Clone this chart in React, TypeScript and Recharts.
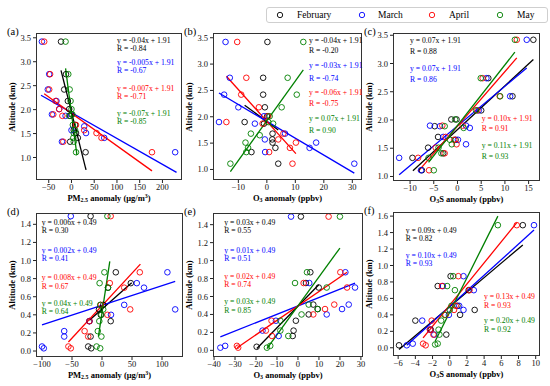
import React from 'react';
import { ComposedChart, Scatter, Line, XAxis, YAxis } from 'recharts';

const FONT = '"Liberation Serif", "Times New Roman", serif';

const months = ['February', 'March', 'April', 'May'];
const colors = ['#000000', '#0000ff', '#ff0000', '#008000'];

// (a) PM2.5 anomaly vs altitude, [x, y]
const aFeb = [[-23, 3.42], [-12, 2.74], [-16, 2.42], [-8, 2.18], [-5, 2.01], [0, 1.9], [-3, 1.87], [8, 1.68], [5, 1.57], [10, 1.51], [14, 1.41], [-3, 1.33], [31, 1.11]];
const aMar = [[-65, 3.42], [-49, 2.74], [-52, 2.42], [-33, 2.18], [-27, 2.01], [-43, 1.9], [-13, 1.87], [28, 1.65], [0, 1.57], [32, 1.51], [72, 1.41], [-21, 1.33], [228, 1.11]];
const aApr = [[-60, 3.42], [-47, 2.74], [-49, 2.42], [-35, 2.18], [-27, 2.01], [-40, 1.9], [-20, 1.87], [10, 1.68], [28, 1.57], [55, 1.51], [66, 1.41], [-18, 1.33], [177, 1.11]];
const aMay = [[-13, 3.42], [-7, 2.74], [-4, 2.42], [-2, 2.18], [0, 2.01], [2, 1.9], [-5, 1.87], [3, 1.68], [8, 1.57], [5, 1.51], [4, 1.41], [5, 1.33], [10, 1.11]];
const aFits = [
  [[-23, 2.82], [32, 0.74]],
  [[-67, 2.3], [231, 0.69]],
  [[-60, 2.33], [177, 0.72]],
  [[-13, 2.86], [12, 1.05]],
];
const aEq = ['y = -0.04x + 1.91', 'y = -0.005x + 1.91', 'y = -0.007x + 1.91', 'y = -0.07x + 1.91'];
const aR = ['R = -0.84', 'R = -0.67', 'R = -0.71', 'R = -0.85'];

// (b) O3 anomaly
const bFeb = [[0.2, 3.42], [-1.3, 2.74], [-1.3, 2.42], [-0.7, 2.18], [0.1, 2.01], [-7.8, 1.9], [-1.0, 1.87], [2.0, 1.68], [1.9, 1.57], [2.0, 1.51], [3.0, 1.41], [-5.4, 1.33], [4.0, 1.11]];
const bMar = [[-14.5, 3.42], [-13, 2.74], [-15, 2.42], [-10, 2.18], [-1, 2.01], [-16.8, 1.9], [-4.2, 1.87], [6.4, 1.68], [-0.7, 1.57], [17.3, 1.51], [15, 1.41], [-0.6, 1.33], [30.7, 1.11]];
const bApr = [[-10.4, 3.42], [-7.2, 2.74], [-9, 2.42], [-2.8, 2.18], [0.5, 2.01], [-14.2, 1.9], [-1.5, 1.87], [5.8, 1.68], [4, 1.57], [10.2, 1.51], [8.1, 1.41], [0.8, 1.33], [9, 1.11]];
const bMay = [[12.8, 3.42], [7.3, 2.74], [10.5, 2.42], [5.2, 2.18], [1, 2.01], [0.5, 1.9], [2.2, 1.87], [-5.6, 1.68], [-2.5, 1.65], [-7.5, 1.51], [-6.6, 1.41], [-7.2, 1.33], [-12.8, 1.11]];
const bFits = [
  [[-7.8, 2.22], [4.0, 1.75]],
  [[-16.8, 2.45], [30.7, 0.93]],
  [[-14.2, 2.77], [10.2, 1.3]],
  [[-12.8, 0.96], [12.8, 2.89]],
];
const bEq = ['y = -0.04x + 1.91', 'y = -0.03x + 1.91', 'y = -0.06x + 1.91', 'y = 0.07x + 1.91'];
const bR = ['R = -0.20', 'R = -0.74', 'R = -0.75', 'R = 0.90'];

// (c) O3S anomaly
const cFeb = [[16.0, 3.42], [6.5, 2.74], [11.6, 2.42], [5.0, 2.17], [-1.3, 2.01], [-0.2, 2.01], [-4.8, 1.89], [-4.1, 1.7], [-0.4, 1.65], [-6.2, 1.51], [-3.0, 1.41], [-9.5, 1.33], [-7.5, 1.11]];
const cMar = [[14.6, 3.42], [6.1, 2.74], [11.1, 2.42], [4.5, 2.17], [-5.8, 1.9], [-3.7, 1.89], [2.6, 1.86], [1.8, 1.9], [-3.0, 1.7], [0.1, 1.65], [1.8, 1.57], [-12.3, 1.33], [-7.7, 1.11]];
const cApr = [[12.5, 3.42], [5.3, 2.74], [8.9, 2.42], [4.2, 2.17], [-3.2, 1.9], [1.1, 1.9], [-2.5, 1.7], [-0.7, 1.65], [-0.2, 1.57], [-4.6, 1.51], [-2.7, 1.41], [-8.3, 1.33], [-6.0, 1.11]];
const cMay = [[12.1, 3.42], [4.9, 2.74], [9.0, 2.42], [3.9, 2.17], [-0.5, 2.01], [-2.7, 1.89], [1.3, 1.86], [-1.6, 1.65], [-1.2, 1.57], [-4.0, 1.51], [-3.4, 1.41], [-6.1, 1.33], [-5.0, 1.11]];
const cFits = [
  [[-9.4, 1.1], [16.0, 3.07]],
  [[-12.3, 1.03], [14.6, 2.92]],
  [[-8.3, 1.09], [12.5, 3.1]],
  [[-6.1, 1.25], [12.1, 3.2]],
];
const cEq = ['y = 0.07x + 1.91', 'y = 0.07x + 1.91', 'y = 0.10x + 1.91', 'y = 0.11x + 1.91'];
const cR = ['R = 0.88', 'R = 0.86', 'R = 0.91', 'R = 0.93'];

// (d) PM2.5 anomaly, lower layer
const dFeb = [[-19, 1.49], [23, 0.87], [48, 0.75], [10, 0.7], [2, 0.51], [-5, 0.46], [-2, 0.4], [14.5, 0.33], [-21, 0.33], [-19, 0.16], [-23, 0.05], [-18, 0.03]];
const dMar = [[-52, 1.49], [109, 0.87], [58, 0.75], [70, 0.7], [37, 0.51], [122, 0.46], [15, 0.4], [-21, 0.33], [-63, 0.22], [-63, 0.16], [-100, 0.05], [-97, 0.03]];
const dApr = [[14.5, 1.49], [63, 0.87], [13, 0.75], [37, 0.7], [-2, 0.51], [47, 0.46], [9, 0.4], [-21, 0.33], [-29, 0.22], [-23, 0.16], [-56, 0.05], [-52, 0.03]];
const dMay = [[9, 1.49], [4, 0.87], [-4, 0.75], [10, 0.7], [-3, 0.51], [2, 0.46], [-1, 0.4], [-4.5, 0.33], [-7, 0.22], [-1, 0.16], [-9, 0.05], [-3, 0.03]];
const dFits = [
  [[-21, 0.34], [49.5, 0.755]],
  [[-100, 0.29], [122, 0.77]],
  [[-56, 0.1], [64, 0.96]],
  [[-6, 0.16], [13, 0.99]],
];
const dEq = ['y = 0.006x + 0.49', 'y = 0.002x + 0.49', 'y = 0.008x + 0.49', 'y = 0.04x + 0.49'];
const dR = ['R = 0.30', 'R = 0.41', 'R = 0.67', 'R = 0.64'];

// (e) O3 anomaly, lower layer
const eFeb = [[1.4, 1.49], [5.9, 0.87], [3.8, 0.75], [9.9, 0.7], [7.3, 0.51], [9.4, 0.46], [5.1, 0.4], [-1, 0.33], [-2.1, 0.22], [-2.5, 0.16], [-19.7, 0.04]];
const eMar = [[-3.3, 1.49], [22.6, 0.87], [5.4, 0.75], [27.2, 0.7], [24.2, 0.51], [21, 0.46], [13.7, 0.4], [-10.5, 0.33], [-16.9, 0.22], [-9.2, 0.16], [-34.7, 0.05], [-37, 0.03]];
const eApr = [[14.6, 1.49], [20.2, 0.87], [2.7, 0.75], [23.4, 0.7], [17.3, 0.51], [12.9, 0.46], [7.3, 0.4], [-12.6, 0.33], [-15.3, 0.22], [-12.4, 0.16], [-29.1, 0.05], [-28.5, 0.03]];
const eMay = [[20, 1.49], [4.3, 0.87], [-1.4, 0.75], [13.7, 0.7], [5.1, 0.51], [9.4, 0.46], [1.7, 0.4], [-8.4, 0.33], [-8.4, 0.22], [-4.6, 0.16], [-13.2, 0.05], [-14.8, 0.03]];
const eFits = [
  [[-19.6, 0.02], [9.9, 0.73]],
  [[-37, 0.15], [27.2, 0.75]],
  [[-29, 0.03], [23.4, 0.87]],
  [[-14.8, 0.02], [20, 1.14]],
];
const eEq = ['y = 0.03x + 0.49', 'y = 0.01x + 0.49', 'y = 0.02x + 0.49', 'y = 0.03x + 0.49'];
const eR = ['R = 0.55', 'R = 0.51', 'R = 0.74', 'R = 0.85'];

// (f) O3S anomaly, lower layer
const fFeb = [[8.5, 1.49], [0.1, 0.87], [-1.4, 0.75], [2.2, 0.7], [0.9, 0.51], [2.9, 0.46], [1.2, 0.4], [-4.0, 0.33], [-2.2, 0.22], [-0.4, 0.16], [-5.9, 0.03]];
const fMar = [[9.8, 1.49], [1.6, 0.87], [-0.8, 0.75], [2.8, 0.7], [1.1, 0.51], [1.6, 0.46], [-0.1, 0.4], [-3.2, 0.33], [-2.3, 0.22], [-1.8, 0.16], [-4.3, 0.05], [-5.0, 0.03]];
const fApr = [[7.8, 1.49], [1.0, 0.87], [-0.9, 0.75], [2.3, 0.7], [0.7, 0.51], [0.5, 0.46], [-0.5, 0.4], [-2.1, 0.33], [-2.3, 0.22], [-1.9, 0.16], [-3.1, 0.05], [-2.8, 0.03]];
const fMay = [[5.6, 1.49], [0.4, 0.87], [-0.3, 0.75], [0.6, 0.7], [0.2, 0.51], [0.0, 0.46], [-0.6, 0.4], [-1.0, 0.33], [-1.3, 0.22], [-1.2, 0.16], [-1.7, 0.04], [-1.4, 0.05]];
const fFits = [
  [[-5.9, -0.02], [8.5, 1.25]],
  [[-5.0, 0.03], [9.8, 1.43]],
  [[-3.1, 0.12], [7.8, 1.52]],
  [[-1.7, 0.08], [5.6, 1.6]],
];
const fEq = ['y = 0.09x + 0.49', 'y = 0.10x + 0.49', 'y = 0.13x + 0.49', 'y = 0.20x + 0.49'];
const fR = ['R = 0.82', 'R = 0.93', 'R = 0.93', 'R = 0.92'];

const ticksTopY = [1.0, 1.5, 2.0, 2.5, 3.0, 3.5];
const ticksLowY = [0, 0.2, 0.4, 0.6, 0.8, 1.0, 1.2, 1.4];

const toObj = (pts: number[][]) => pts.map(([x, y]) => ({ x, y }));
const fmtX = (v: number) => (v < 0 ? '\u2212' + Math.abs(v) : String(v));

const panels = [
  {
    tag: '(a)', xl: 'pm', left: 36, right: 182, top: 33, bottom: 180,
    xDomain: [-78, 243], yDomain: [0.53, 3.6], xTicks: [-50, 0, 50, 100, 150, 200], yTicks: ticksTopY,
    pts: [aFeb, aMar, aApr, aMay], fits: aFits, eq: aEq, r: aR,
    notes: [[117, 40.7, 48.3], [117, 62.7, 70.7], [117, 88.3, 96.7], [117, 113.3, 121.7]],
  },
  {
    tag: '(b)', xl: 'o3', left: 213, right: 362, top: 33, bottom: 180,
    xDomain: [-18.9, 33.4], yDomain: [0.8, 3.59], xTicks: [-10, 0, 10, 20, 30], yTicks: ticksTopY,
    pts: [bFeb, bMar, bApr, bMay], fits: bFits, eq: bEq, r: bR,
    notes: [[309, 40.7, 50.7], [309, 65.3, 78.3], [309, 92.7, 103.3], [309, 118.3, 130]],
  },
  {
    tag: '(c)', xl: 'o3s', left: 393, right: 540, top: 33, bottom: 181,
    xDomain: [-13.6, 17.4], yDomain: [0.92, 3.54], xTicks: [-10, -5, 0, 5, 10, 15], yTicks: ticksTopY,
    pts: [cFeb, cMar, cApr, cMay], fits: cFits, eq: cEq, r: cR,
    notes: [[410, 40.7, 51], [410, 68.3, 79], [481.7, 118.3, 128.3], [481.7, 145.7, 156]],
  },
  {
    tag: '(d)', xl: 'pm', left: 36, right: 183, top: 213, bottom: 357,
    xDomain: [-110, 135], yDomain: [-0.066, 1.525], xTicks: [-100, -50, 0, 50, 100], yTicks: ticksLowY,
    pts: [dFeb, dMar, dApr, dMay], fits: dFits, eq: dEq, r: dR,
    notes: [[41.7, 222.7, 230.7], [41.7, 250, 258.3], [41.7, 277.3, 286], [41.7, 303.3, 311.7]],
  },
  {
    tag: '(e)', xl: 'o3', left: 213, right: 363, top: 213, bottom: 357,
    xDomain: [-40.5, 31], yDomain: [-0.074, 1.53], xTicks: [-40, -30, -20, -10, 0, 10, 20, 30], yTicks: ticksLowY,
    pts: [eFeb, eMar, eApr, eMay], fits: eFits, eq: eEq, r: eR,
    notes: [[224.3, 222.3, 230.7], [224.3, 250, 258.3], [224.3, 276, 284.3], [224.3, 301.7, 310.7]],
  },
  {
    tag: '(f)', xl: 'o3s', left: 393, right: 540, top: 212, bottom: 356,
    xDomain: [-6.6, 10.5], yDomain: [-0.1, 1.65], xTicks: [-6, -4, -2, 0, 2, 4, 6, 8, 10], yTicks: [0, 0.2, 0.4, 0.6, 0.8, 1.0, 1.2, 1.4, 1.6],
    pts: [fFeb, fMar, fApr, fMay], fits: fFits, eq: fEq, r: fR,
    notes: [[405.7, 230.7, 238.3], [405.7, 255.7, 263.3], [484, 296.7, 305], [484, 320.7, 329.3]],
  },
];

const YW = 30;
const MT = 4;
const MR = 4;
const XH = 18;

const ring = (color: string) => (props: any) => (
  <circle cx={props.cx} cy={props.cy} r={2.8} fill="none" stroke={color} strokeWidth={0.9} />
);

const subStyle: React.CSSProperties = { fontSize: '0.7em', verticalAlign: '-0.25em', lineHeight: 0 };
const supStyle: React.CSSProperties = { fontSize: '0.7em', verticalAlign: '0.45em', lineHeight: 0 };

function XTitle({ kind }: { kind: string }) {
  if (kind === 'pm') {
    return <span>PM<span style={subStyle}>2.5</span> anomaly (μg/m<span style={supStyle}>3</span>)</span>;
  }
  if (kind === 'o3') {
    return <span>O<span style={subStyle}>3</span> anomaly (ppbv)</span>;
  }
  return <span>O<span style={subStyle}>3</span>S anomaly (ppbv)</span>;
}

function Note({ x, y, color, text }: { x: number; y: number; color: string; text: string }) {
  return (
    <div style={{ position: 'absolute', left: x, top: y - 4.5, fontSize: 7.7, lineHeight: '9px', color, whiteSpace: 'nowrap' }}>
      {text}
    </div>
  );
}

function Panel({ p }: { p: any }) {
  const w = p.right - p.left;
  const h = p.bottom - p.top;
  const tickStyle = { fontSize: 8.5, fill: '#111', fontFamily: FONT };
  return (
    <>
      <div style={{ position: 'absolute', left: p.left - YW, top: p.top - MT }}>
        <ComposedChart width={w + YW + MR} height={h + MT + XH} margin={{ top: MT, right: MR, bottom: 0, left: 0 }}>
          <XAxis
            type="number" dataKey="x" domain={p.xDomain} ticks={p.xTicks} allowDataOverflow interval={0}
            height={XH} tickSize={3} tickMargin={1} axisLine={false} tickLine={{ stroke: '#222' }}
            tick={tickStyle} tickFormatter={fmtX}
          />
          <YAxis
            type="number" dataKey="y" domain={p.yDomain} ticks={p.yTicks} allowDataOverflow interval={0}
            width={YW} tickSize={3} tickMargin={2} axisLine={false} tickLine={{ stroke: '#222' }}
            tick={tickStyle} tickFormatter={(v: number) => v.toFixed(1)}
          />
          {p.pts.map((pts: number[][], i: number) => (
            <Scatter key={'s' + i} name={months[i]} data={toObj(pts)} shape={ring(colors[i])} isAnimationActive={false} />
          ))}
          {p.fits.map((f: number[][], i: number) => (
            <Line
              key={'l' + i} data={toObj(f)} dataKey="y" type="linear" stroke={colors[i]} strokeWidth={1.3}
              dot={false} activeDot={false} isAnimationActive={false}
            />
          ))}
        </ComposedChart>
        <div
          style={{
            position: 'absolute', left: YW, top: MT, width: w, height: h,
            border: '1px solid #333', boxSizing: 'border-box', pointerEvents: 'none',
          }}
        />
      </div>
      {p.notes.map((n: number[], i: number) => (
        <React.Fragment key={'n' + i}>
          <Note x={n[0]} y={n[1]} color={colors[i]} text={p.eq[i]} />
          <Note x={n[0]} y={n[2]} color={colors[i]} text={p.r[i]} />
        </React.Fragment>
      ))}
      <div style={{ position: 'absolute', left: p.left - 29, top: p.top - 7, fontSize: 10.5, lineHeight: '12px' }}>{p.tag}</div>
      <div
        style={{
          position: 'absolute', left: p.left - 24 - 60, top: (p.top + p.bottom) / 2 - 6, width: 120, height: 12,
          transform: 'rotate(-90deg)', textAlign: 'center', fontWeight: 'bold', fontSize: 8.5, lineHeight: '12px',
        }}
      >
        Altitude (km)
      </div>
      <div
        style={{
          position: 'absolute', left: p.left, top: p.bottom + 12, width: w, textAlign: 'center',
          fontWeight: 'bold', fontSize: 8.5, lineHeight: '12px', whiteSpace: 'nowrap',
        }}
      >
        <XTitle kind={p.xl} />
      </div>
    </>
  );
}

const legendPos = [[280, 297], [362, 378], [432, 449], [500, 517]];

export default function App() {
  return (
    <div style={{ position: 'absolute', left: 0, top: 0, width: 550, height: 386, background: '#fff', fontFamily: FONT, color: '#000', overflow: 'hidden' }}>
      {panels.map((p) => (
        <Panel key={p.tag} p={p} />
      ))}
      <div
        style={{
          position: 'absolute', left: 266, top: 7, width: 282, height: 16,
          border: '1px solid #cfcfcf', borderRadius: 3, boxSizing: 'border-box',
        }}
      />
      {months.map((m, i) => (
        <React.Fragment key={m}>
          <svg style={{ position: 'absolute', left: legendPos[i][0] - 4, top: 11, width: 8, height: 8 }}>
            <circle cx={4} cy={4} r={2.7} fill="none" stroke={colors[i]} strokeWidth={0.9} />
          </svg>
          <div style={{ position: 'absolute', left: legendPos[i][1], top: 9, fontSize: 9.5, lineHeight: '12px' }}>{m}</div>
        </React.Fragment>
      ))}
    </div>
  );
}
